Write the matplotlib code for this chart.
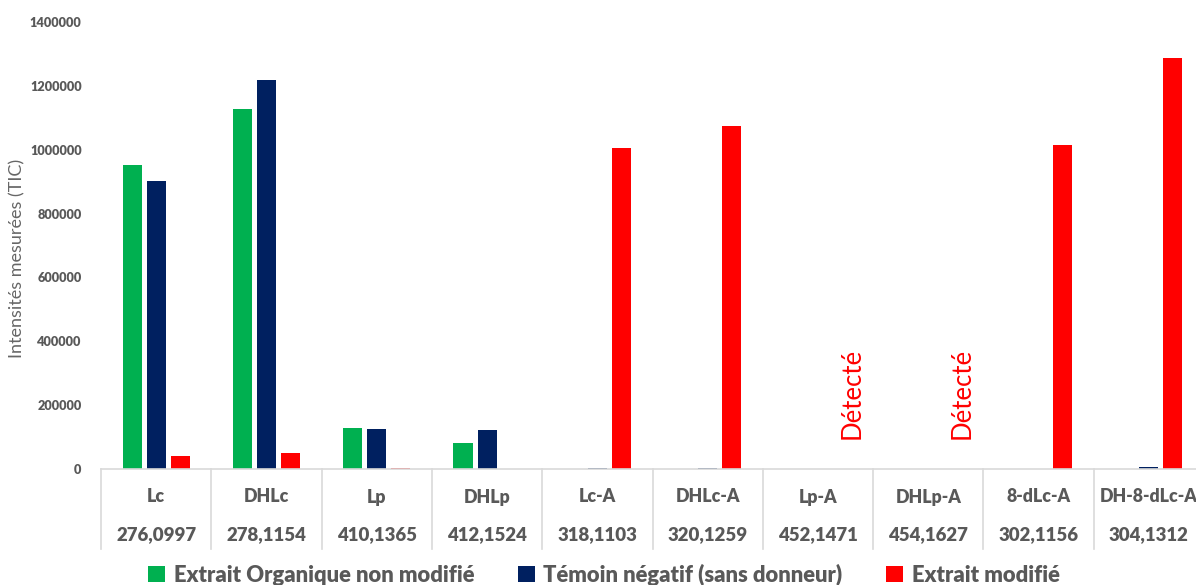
import matplotlib.pyplot as plt
import numpy as np
from matplotlib.lines import Line2D
from matplotlib.patches import Patch

plt.rcParams['font.family'] = ['Lato', 'DejaVu Sans']

compounds = ['Lc', 'DHLc', 'Lp', 'DHLp', 'Lc-A', 'DHLc-A', 'Lp-A', 'DHLp-A', '8-dLc-A', 'DH-8-dLc-A']
masses = ['276,0997', '278,1154', '410,1365', '412,1524', '318,1103', '320,1259',
          '452,1471', '454,1627', '302,1156', '304,1312']

extrait_organique = [952000, 1127000, 128000, 82000, 0, 0, 0, 0, 0, 0]
temoin_negatif = [902000, 1218000, 126000, 122000, 3000, 3000, 0, 0, 0, 6000]
extrait_modifie = [40000, 50000, 3000, 0, 1005000, 1074000, 0, 0, 1015000, 1287000]

# compounds only reported as detected (no intensity bar)
detected_only = ['Lp-A', 'DHLp-A']

series = [
    ('Extrait Organique non modifié', extrait_organique, '#00B050'),
    ('Témoin négatif (sans donneur)', temoin_negatif, '#002060'),
    ('Extrait modifié', extrait_modifie, '#FF0000'),
]

GREY = '#595959'
W, H = 1196, 585

fig = plt.figure(figsize=(W / 100, H / 100), dpi=100)
ax = fig.add_axes([101 / W, 116 / H, 1103 / W, 447 / H])

x = np.arange(len(compounds))
bar_w = 0.173
step = 0.218
for i, (label, vals, color) in enumerate(series):
    ax.bar(x + (i - 1) * step, vals, width=bar_w, color=color, label=label, zorder=2)

for name in detected_only:
    k = compounds.index(name)
    ax.text(k + 0.31, 94000, 'Détecté', rotation=90, ha='center', va='bottom',
            color='#FF0000', fontsize=18.5)

ax.set_xlim(-0.5, len(compounds) - 0.5)
ax.set_ylim(0, 1400000)
ax.set_yticks(np.arange(0, 1400001, 200000))
ax.set_yticklabels([f'{v:d}' for v in range(0, 1400001, 200000)],
                   fontsize=9.2, fontweight='heavy', color=GREY)
ax.tick_params(axis='y', length=0, pad=14)
ax.set_xticks([])
for side in ['left', 'right', 'top']:
    ax.spines[side].set_visible(False)
ax.spines['bottom'].set_color('#D9D9D9')
ax.spines['bottom'].set_linewidth(1.2)

ax.set_ylabel('Intensités mesurées (TIC)', fontsize=13, color='#666666')
ax.yaxis.set_label_coords(-76 / 1103, 0.47)

# two-row category axis with separators
sep_bottom = -(549 - 469) / 447
for k in range(len(compounds) + 1):
    ax.add_line(Line2D([k - 0.5, k - 0.5], [0, sep_bottom], transform=ax.get_xaxis_transform(),
                       color='#D9D9D9', lw=1.2, clip_on=False))
for k in range(len(compounds)):
    ax.text(k, -(497 - 469) / 447, compounds[k], transform=ax.get_xaxis_transform(),
            ha='center', va='center', fontsize=12.8, fontweight='heavy', color=GREY)
    ax.text(k, -(535 - 469) / 447, masses[k], transform=ax.get_xaxis_transform(),
            ha='center', va='center', fontsize=13.4, fontweight='heavy', color=GREY)

handles = [Patch(facecolor=c, label=l) for l, _, c in series]
fig.legend(handles=handles, loc='center', bbox_to_anchor=(0.505, 1 - 575 / H), ncol=3,
           frameon=False, prop={'weight': 'heavy', 'size': 15.8},
           handlelength=0.75, handleheight=0.75, handletextpad=0.4, columnspacing=2.0,
           labelcolor=GREY)

fig.savefig('out.png', dpi=100)
